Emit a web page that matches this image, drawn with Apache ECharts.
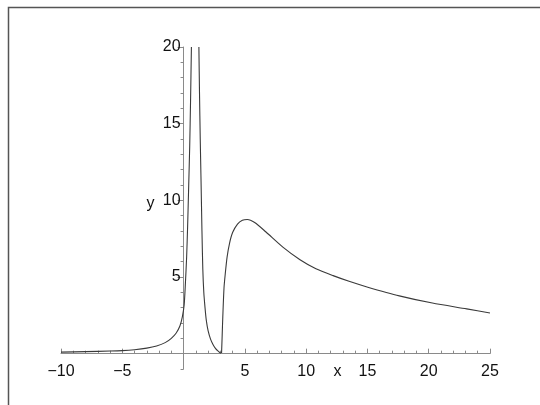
<!DOCTYPE html>
<html>
<head>
<meta charset="utf-8">
<script src="https://cdn.jsdelivr.net/npm/echarts@6/dist/echarts.min.js"></script>
<style>
html,body{margin:0;padding:0;background:#fff;}
#chart{width:540px;height:405px;}
</style>
</head>
<body>
<div id="chart"></div>
<script>
// Branch left of the asymptote
var branch1X = [-10, -8, -6, -5, -4, -3, -2.2, -1.5, -1, -0.6, -0.3, -0.1, 0.05, 0.15, 0.25, 0.33, 0.42, 0.5, 0.57, 0.64];
var branch1Y = [0.1, 0.13, 0.17, 0.2, 0.26, 0.36, 0.5, 0.72, 1.0, 1.35, 1.8, 2.4, 3.2, 4.6, 6.3, 8.3, 11, 13.5, 16.5, 20];
// Branch right of the asymptote, down to zero
var branch2X = [1.25, 1.3, 1.36, 1.42, 1.5, 1.57, 1.65, 1.75, 1.85, 2.0, 2.2, 2.4, 2.6, 2.8, 2.95, 3.05];
var branch2Y = [20, 17, 14, 11.5, 8, 5.5, 4, 3, 2.2, 1.5, 0.95, 0.6, 0.35, 0.18, 0.08, 0.03];
// Branch rising from zero to the hump and decaying
var branch3X = [3.1, 3.15, 3.2, 3.3, 3.4, 3.55, 3.75, 4.0, 4.4, 4.8, 5.2, 5.8, 6.7, 8.1, 9.5, 10.8, 12.2, 13.5, 14.9, 17.6, 20.3, 23.1, 25];
var branch3Y = [0.05, 1.2, 2.4, 4.3, 5.2, 6.3, 7.2, 7.9, 8.45, 8.7, 8.75, 8.55, 7.95, 6.95, 6.13, 5.54, 5.09, 4.72, 4.37, 3.77, 3.3, 2.92, 2.65];

var xTickLabels = [-10, -5, 5, 10, 15, 20, 25];
var yTickLabels = [5, 10, 15, 20];

function zip(xs, ys) { return xs.map(function (x, i) { return [x, ys[i]]; }); }
function fmt(v) { return v < 0 ? '\u2212' + Math.abs(v) : String(v); }

var FONT = 'Liberation Sans';
var AXIS_COLOR = '#8a8a8a';
var LINE_COLOR = '#3a3a3a';

// layout
var W = 540, H = 405;
var G = {left: 61, right: 50, top: 47, bottom: 36};
var X_MIN = -10, X_MAX = 25, Y_MIN = -1, Y_MAX = 20;
var gw = W - G.left - G.right, gh = H - G.top - G.bottom;
// shift the axes from the grid edges to the origin
var yAxisShift = -gw * (0 - X_MIN) / (X_MAX - X_MIN);
var xAxisShift = -gh * (0 - Y_MIN) / (Y_MAX - Y_MIN);

var chart = echarts.init(document.getElementById('chart'), null, {renderer: 'canvas'});

function branch(xs, ys) {
  return {
    type: 'line', data: zip(xs, ys), showSymbol: false, smooth: 0.25,
    lineStyle: {color: LINE_COLOR, width: 1.1}, clip: true, silent: true
  };
}

chart.setOption({
  animation: false,
  backgroundColor: '#fff',
  grid: {left: G.left, right: G.right, top: G.top, bottom: G.bottom, containLabel: false, outerBoundsMode: 'none'},
  xAxis: {
    type: 'value', min: X_MIN, max: X_MAX, interval: 5, offset: xAxisShift,
    name: 'x', nameLocation: 'middle', nameGap: 10, nameMoveOverlap: false,
    nameTextStyle: {color: '#111', fontFamily: FONT, fontSize: 16, padding: [0, 0, 0, 124]},
    axisLine: {onZero: false, lineStyle: {color: AXIS_COLOR, width: 1}},
    axisTick: {inside: true, length: 5, lineStyle: {color: AXIS_COLOR}},
    minorTick: {show: true, splitNumber: 5, length: 3, lineStyle: {color: AXIS_COLOR}},
    splitLine: {show: false},
    axisLabel: {
      color: '#111', fontFamily: FONT, fontSize: 16, margin: 10,
      formatter: function (v) { return xTickLabels.indexOf(v) >= 0 ? fmt(v) : ''; }
    }
  },
  yAxis: [{
    type: 'value', min: Y_MIN, max: Y_MAX, interval: 1, offset: yAxisShift,
    name: 'y', nameLocation: 'middle', nameGap: 29, nameRotate: 0, nameMoveOverlap: false,
    nameTextStyle: {color: '#111', fontFamily: FONT, fontSize: 16, verticalAlign: 'bottom', lineHeight: 8},
    position: 'left',
    axisLine: {onZero: false, lineStyle: {color: AXIS_COLOR, width: 1}},
    axisTick: {length: 3, lineStyle: {color: AXIS_COLOR}},
    splitLine: {show: false},
    axisLabel: {
      color: '#111', fontFamily: FONT, fontSize: 16, margin: 3,
      formatter: function (v) { return yTickLabels.indexOf(v) >= 0 ? fmt(v) : ''; }
    }
  }, {
    type: 'value', min: Y_MIN, max: Y_MAX, position: 'left', offset: yAxisShift,
    axisLine: {show: false, onZero: false},
    axisTick: {show: true, length: 6, customValues: yTickLabels, lineStyle: {color: AXIS_COLOR}},
    axisLabel: {show: false},
    splitLine: {show: false}
  }],
  graphic: [{
    type: 'rect', silent: true,
    shape: {x: 8.5, y: 7.5, width: 700, height: 600},
    style: {fill: null, stroke: '#555', lineWidth: 1.5}
  }],
  series: [branch(branch1X, branch1Y), branch(branch2X, branch2Y), branch(branch3X, branch3Y)]
});
</script>
</body>
</html>
